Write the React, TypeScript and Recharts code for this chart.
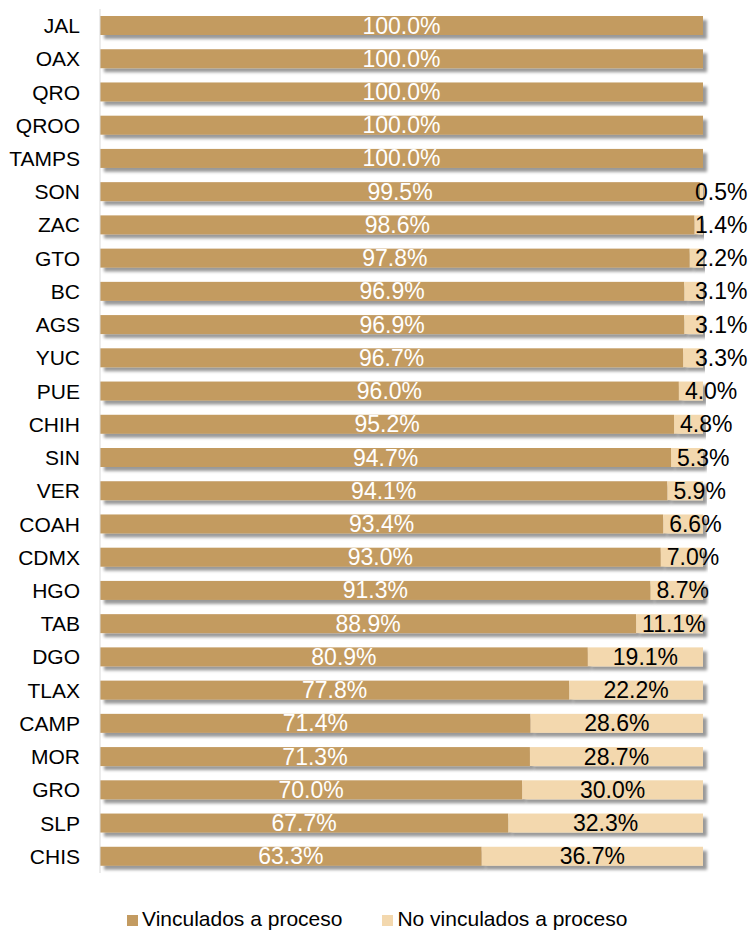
import { BarChart, Bar, XAxis, YAxis, Legend, LabelList } from 'recharts';

const states = [
  'JAL', 'OAX', 'QRO', 'QROO', 'TAMPS', 'SON', 'ZAC', 'GTO', 'BC', 'AGS', 'YUC', 'PUE', 'CHIH',
  'SIN', 'VER', 'COAH', 'CDMX', 'HGO', 'TAB', 'DGO', 'TLAX', 'CAMP', 'MOR', 'GRO', 'SLP', 'CHIS',
];
const vinculados = [
  100, 100, 100, 100, 100, 99.5, 98.6, 97.8, 96.9, 96.9, 96.7, 96.0, 95.2,
  94.7, 94.1, 93.4, 93.0, 91.3, 88.9, 80.9, 77.8, 71.4, 71.3, 70.0, 67.7, 63.3,
];
const noVinculados = [
  0, 0, 0, 0, 0, 0.5, 1.4, 2.2, 3.1, 3.1, 3.3, 4.0, 4.8,
  5.3, 5.9, 6.6, 7.0, 8.7, 11.1, 19.1, 22.2, 28.6, 28.7, 30.0, 32.3, 36.7,
];

const DARK = '#C39B61';
const LIGHT = '#F3D8AE';
const FONT = '"Liberation Sans", Arial, sans-serif';

const data = states.map((s, i) => ({ state: s, vin: vinculados[i], noVin: noVinculados[i] }));

const ShadowRect = (props: any) => {
  const { x, y, width, height, fill } = props;
  if (!width || width <= 0) return null;
  return <rect x={x} y={y} width={width} height={height} fill={fill} filter="url(#barShadow)" />;
};

const DarkLabel = (props: any) => {
  const { x, y, width, height, value } = props;
  if (!value) return null;
  return (
    <text x={x + width / 2} y={y + height / 2 + 8} textAnchor="middle" fill="#fff"
      fontSize={23} fontFamily={FONT}>
      {Number(value).toFixed(1)}%
    </text>
  );
};

// small segments: label pushed off to the right of the segment start
const LightLabel = (props: any) => {
  const { x, y, width, height, value } = props;
  if (!value) return null;
  const small = value < 15;
  const tx = !small ? x + width / 2 : value < 3.5 ? 695 : x + 6;
  return (
    <text x={tx} y={y + height / 2 + 8} textAnchor={small ? 'start' : 'middle'} fill="#000"
      fontSize={23} fontFamily={FONT}>
      {Number(value).toFixed(1)}%
    </text>
  );
};

const LegendContent = () => (
  <div style={{ height: 57, paddingTop: 34, paddingLeft: 127, boxSizing: 'border-box', display: 'flex',
    fontFamily: FONT, fontSize: 21, lineHeight: '22px', color: '#000' }}>
    {[['Vinculados a proceso', DARK], ['No vinculados a proceso', LIGHT]].map(([name, c], i) => (
      <span key={name} style={{ display: 'flex', alignItems: 'center', marginLeft: i ? 40 : 0 }}>
        <span style={{ width: 11, height: 11, background: c, marginRight: 4, marginTop: 3 }} />
        {name}
      </span>
    ))}
  </div>
);

export default function App() {
  return (
    <div style={{ position: 'absolute', left: 0, top: 0, background: '#fff' }}>
      <BarChart width={754} height={930} data={data} layout="vertical" barSize={19}
        margin={{ top: 9, right: 51, left: 0, bottom: 0 }}>
        <defs>
          <filter id="barShadow" x="-5%" y="-30%" width="115%" height="180%">
            <feDropShadow dx={4} dy={4} stdDeviation={1.6} floodColor="#000" floodOpacity={0.4} />
          </filter>
        </defs>
        <XAxis type="number" domain={[0, 100]} hide />
        <YAxis type="category" dataKey="state" width={100} tickLine={false}
          axisLine={{ stroke: '#d9d9d9' }} tickMargin={14} interval={0}
          tick={{ fontSize: 21, fontFamily: FONT, fill: '#000' }} />
        <Legend verticalAlign="bottom" content={<LegendContent />}
          wrapperStyle={{ left: 0, width: 754 }} />
        <Bar dataKey="vin" name="Vinculados a proceso" stackId="a" fill={DARK}
          shape={<ShadowRect />} isAnimationActive={false}>
          <LabelList dataKey="vin" content={<DarkLabel />} />
        </Bar>
        <Bar dataKey="noVin" name="No vinculados a proceso" stackId="a" fill={LIGHT}
          shape={<ShadowRect />} isAnimationActive={false}>
          <LabelList dataKey="noVin" content={<LightLabel />} />
        </Bar>
      </BarChart>
    </div>
  );
}
